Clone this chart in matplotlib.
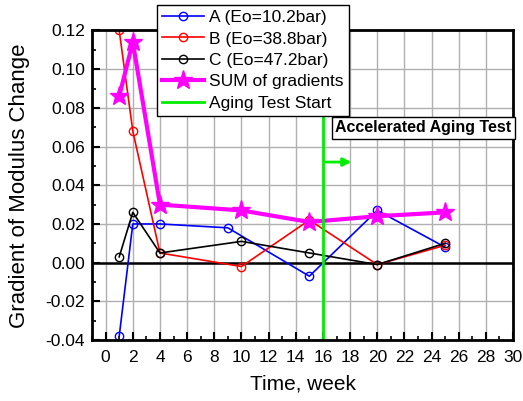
import numpy as np
import matplotlib
matplotlib.use('Agg')
import matplotlib.pyplot as plt
from matplotlib.ticker import MultipleLocator

plt.rcParams['font.family'] = ['Liberation Sans', 'DejaVu Sans']

weeks = [1, 2, 4, 10, 15, 20, 25]
weeks_a = [1, 2, 4, 9, 15, 20, 25]
grad_a = [-0.038, 0.020, 0.020, 0.018, -0.007, 0.027, 0.008]
grad_b = [0.120, 0.068, 0.005, -0.002, 0.022, -0.001, 0.009]
grad_c = [0.003, 0.026, 0.005, 0.011, 0.005, -0.001, 0.010]
grad_sum = [0.086, 0.114, 0.030, 0.027, 0.021, 0.024, 0.026]
aging_start = 16

fig = plt.figure(figsize=(5.23, 4.01), dpi=100)
ax = fig.add_axes([0.176, 0.152, 0.805, 0.772])

mk = dict(marker='o', markersize=6, markerfacecolor='none', markeredgewidth=1.0, lw=1.2)
la, = ax.plot(weeks_a, grad_a, color='blue', label='A (Eo=10.2bar)', **mk)
lb, = ax.plot(weeks, grad_b, color='red', label='B (Eo=38.8bar)', **mk)
lc, = ax.plot(weeks, grad_c, color='black', label='C (Eo=47.2bar)', **mk)
ls, = ax.plot(weeks, grad_sum, color='magenta', lw=3, marker='*', markersize=14,
              label='SUM of gradients')
lg = ax.axvline(aging_start, color='#00ee00', lw=2, label='Aging Test Start')
ax.axhline(0, color='black', lw=1.8, zorder=1.5)

ax.annotate('', xy=(18.3, 0.052), xytext=(16, 0.052),
            arrowprops=dict(arrowstyle='-|>', color='#00ee00', lw=2, mutation_scale=12))
fig.text(0.641, 0.67, 'Accelerated Aging Test', fontsize=11.5, fontweight='bold',
         bbox=dict(boxstyle='square,pad=0.2', fc='white', ec='black', lw=1))

ax.set_xlim(-1, 30)
ax.set_ylim(-0.04, 0.12)
ax.xaxis.set_major_locator(MultipleLocator(2))
ax.xaxis.set_minor_locator(MultipleLocator(1))
ax.yaxis.set_major_locator(MultipleLocator(0.02))
ax.yaxis.set_minor_locator(MultipleLocator(0.01))
ax.yaxis.set_major_formatter(plt.FormatStrFormatter('%.2f'))
ax.grid(True, which='major', color='#b0b0b0', lw=1)
ax.set_axisbelow(True)
ax.tick_params(which='both', direction='in', labelsize=12.5, top=False, right=False)
ax.tick_params(which='major', length=6, width=1.5, pad=5)
ax.tick_params(axis='x', which='major', pad=7)
ax.tick_params(which='minor', length=3, width=1.2)
for s in ax.spines.values():
    s.set_linewidth(2)

ax.set_xlabel('Time, week', fontsize=15, labelpad=7)
ax.set_ylabel('Gradient of Modulus Change', fontsize=16, labelpad=11)

fig.legend(handles=[la, lb, lc, ls, lg], loc='upper left', bbox_to_anchor=(0.3, 0.988),
           fontsize=12.5, frameon=True, fancybox=False, edgecolor='black',
           framealpha=1, handlelength=2.4, borderpad=0.3, labelspacing=0.36,
           handletextpad=0.3, borderaxespad=0)

fig.savefig('out.png', dpi=100)
